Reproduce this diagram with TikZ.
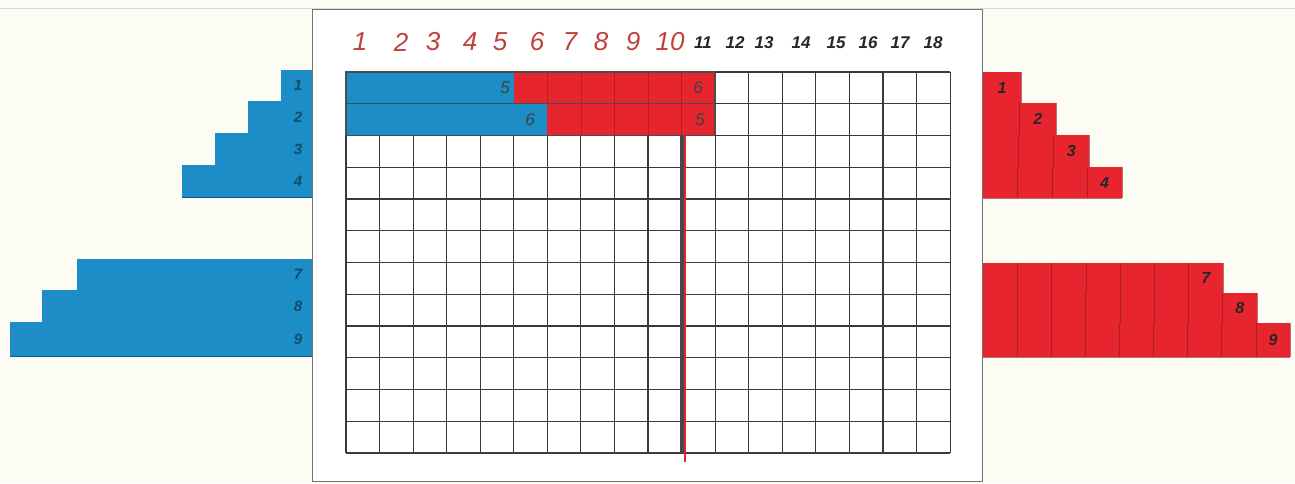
\documentclass[tikz,border=0pt]{standalone}
\usepackage{fontspec}
\setmainfont{Liberation Sans}
\definecolor{paper}{HTML}{FCFCF4}
\definecolor{barblue}{HTML}{1C8DC6}
\definecolor{barred}{HTML}{E7252F}
\definecolor{numred}{HTML}{C0403A}
\definecolor{gridline}{HTML}{3A3A3A}
\begin{document}
\begin{tikzpicture}[x=1pt,y=-1pt,
  gridl/.style={draw=gridline, line width=1.1pt},
  rednum/.style={text=numred, font=\fontsize{26}{26}\selectfont\itshape, inner sep=0pt},
  blacknum/.style={text=black!85, font=\fontsize{17}{17}\selectfont\bfseries\itshape, inner sep=0pt},
  barlbl/.style={text=black!75, font=\fontsize{17}{17}\selectfont\itshape, inner sep=0pt},
  leftlbl/.style={text=barblue!40!black, font=\fontsize{15}{15}\selectfont\bfseries\itshape, inner sep=0pt, opacity=0.75},
  rightlbl/.style={text=black!85, font=\fontsize{16}{16}\selectfont\bfseries\itshape, inner sep=0pt}]
\fill[paper] (0,0) rectangle (1295,483);
\useasboundingbox (0,0) rectangle (1295,483);
\draw[black!15, line width=1pt] (0,8) -- (1295,8);
% left blue staircase
\foreach \l/\t/\b/\n in {281/70/101/1, 248/101/133/2, 215/133/165/3, 182/165/197/4, 77/259/290/7, 42/290/322/8, 10/322/356/9}{
  \fill[barblue] (\l,\t) rectangle (312,\b);
  \draw[barblue!65!black, line width=0.8pt] (\l,\b) -- (312,\b);
  \node[leftlbl] (L\n) at (298,{(\t+\b)/2}) {\n};
}
% right red staircase
\foreach \r/\t/\b/\n in {1021/72/103/1, 1056/103/135/2, 1089/135/167/3, 1122/167/198/4, 1223/263/293/7, 1257/293/323/8, 1290/323/357/9}{
  \pgfmathsetmacro{\w}{(\r-983)/\n}
  \fill[barred] (983,\t) rectangle (\r,\b);
  \foreach \j in {1,...,\n}{
    \draw[barred!60!black, line width=0.6pt, opacity=0.6] ({983+\j*\w},\t) -- ({983+\j*\w},\b);
  }
  \draw[barred!60!black, line width=0.6pt, opacity=0.6] (983,\b) -- (\r,\b);
  \node[rightlbl] (R\n) at ({\r-\w/2},{(\t+\b)/2}) {\n};
}
% sheet
\draw[draw=black!55, fill=white, line width=1pt] (312,9) rectangle (982,481);
% grid
\foreach \i in {0,...,18}{
  \draw[gridl] ({346+\i*33.56},72) -- ({346+\i*33.56},453);
}
\foreach \j in {0,...,12}{
  \draw[gridl] (346,{72+\j*31.75}) -- (950,{72+\j*31.75});
}
% bars on grid
\fill[barblue] (346,72) rectangle (513.8,103.75);
\fill[barred] (513.8,72) rectangle (715.2,103.75);
\fill[barblue] (346,103.75) rectangle (547.4,135.5);
\fill[barred] (547.4,103.75) rectangle (715.2,135.5);
\foreach \i in {6,...,10}{
  \draw[barred!60!black, line width=0.6pt, opacity=0.5] ({346+\i*33.56},72) -- ({346+\i*33.56},103.75);
}
\foreach \i in {7,...,10}{
  \draw[barred!60!black, line width=0.6pt, opacity=0.5] ({346+\i*33.56},103.75) -- ({346+\i*33.56},135.5);
}
\draw[black!70, line width=1.6pt] (346,72) rectangle (715.2,135.5);
\draw[black!70, line width=1.3pt] (346,103.75) -- (715.2,103.75);
\node[barlbl] (b1) at (505,88) {5};
\node[barlbl] (r1) at (698,88) {6};
\node[barlbl] (b2) at (530,120) {6};
\node[barlbl] (r2) at (700,120) {5};
% divider
\draw[line width=4pt, black!72] (681.6,135.5) -- (681.6,453);
\draw[barred, line width=1.6pt] (685.2,135.5) -- (685.2,462);
% column numbers
\foreach \n/\x in {1/360, 2/401, 3/433, 4/470, 5/500, 6/537, 7/570, 8/601, 9/633, 10/670}{
  \node[rednum] (N\n) at (\x,42) {\n};
}
\foreach \n/\x in {11/703, 12/735, 13/764, 14/801, 15/836, 16/868, 17/900, 18/933}{
  \node[blacknum] (N\n) at (\x,43) {\n};
}
\end{tikzpicture}
\end{document}
